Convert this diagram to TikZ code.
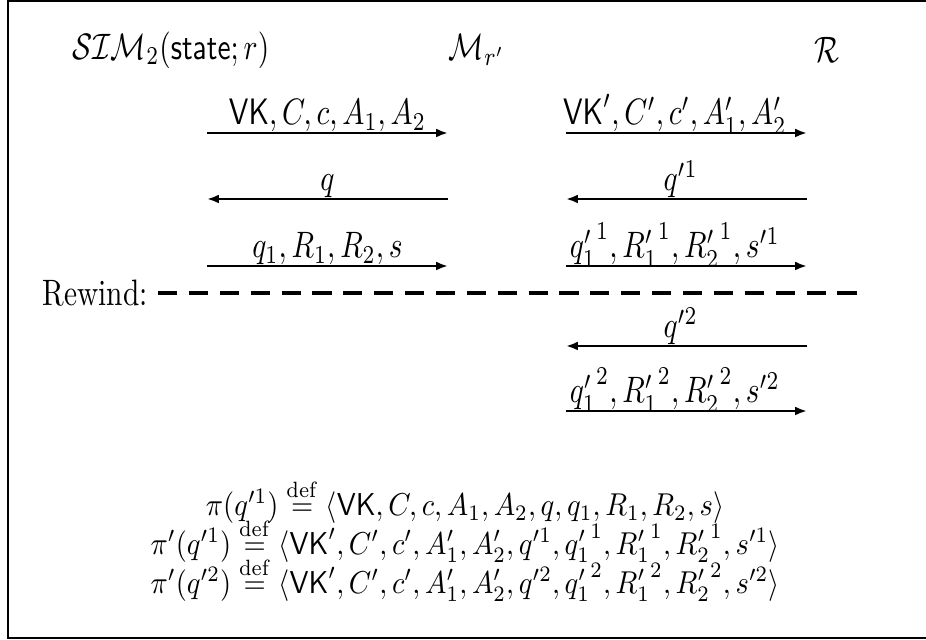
\documentclass[tikz,border=0pt]{standalone}
\usepackage{amsmath,amssymb}
\usepackage{tikz}
\usetikzlibrary{arrows.meta}

\begin{document}
\begin{tikzpicture}[x=0.34pt,y=-0.34pt,
	every node/.style={yscale=1.25},
	msg/.style={thick,-{Latex[length=4pt,width=3pt]}},
	lbl/.style={anchor=base,yshift=2.2pt},
	eqn/.style={xscale=0.97,yscale=0.86,inner sep=0pt}]
	\useasboundingbox (0,0) rectangle (926,640);
	\draw[line width=1pt] (8,1) rectangle (960,638);
	% parties
	\node (sim) at (171,50) {$\mathcal{SIM}_2(\mathsf{state};r)$};
	\node (mid) at (477,50) {$\mathcal{M}_{r'}$};
	\node (rcv) at (827,50) {$\mathcal{R}$};
	% end points of the messages
	\coordinate (l1s) at (207,133); \coordinate (l1e) at (448,133);
	\coordinate (l2s) at (448,199); \coordinate (l2e) at (207,199);
	\coordinate (l3s) at (207,266); \coordinate (l3e) at (448,266);
	\coordinate (r1s) at (566,133); \coordinate (r1e) at (807,133);
	\coordinate (r2s) at (807,199); \coordinate (r2e) at (566,199);
	\coordinate (r3s) at (566,266); \coordinate (r3e) at (807,266);
	\coordinate (r4s) at (807,346); \coordinate (r4e) at (566,346);
	\coordinate (r5s) at (566,411); \coordinate (r5e) at (807,411);
	% first run
	\draw[msg] (l1s) -- node[lbl] (m1) {$\mathsf{VK},C,c,A_1,A_2$} (l1e);
	\draw[msg] (l2s) -- node[lbl] (m2) {$q$} (l2e);
	\draw[msg] (l3s) -- node[lbl] (m3) {$q_1,R_1,R_2,s$} (l3e);
	\draw[msg] (r1s) -- node[lbl,xshift=-4pt] (n1) {$\mathsf{VK}',C',c',A'_1,A'_2$} (r1e);
	\draw[msg] (r2s) -- node[lbl,xshift=-2pt] (n2) {$q'^1$} (r2e);
	\draw[msg] (r3s) -- node[lbl,xshift=-4pt] (n3) {${q'_1}^1,{R'_1}^1,{R'_2}^1,s'^1$} (r3e);
	% rewind
	\node[anchor=east] (rw) at (158,293) {Rewind:};
	\coordinate (rwend) at (860,293);
	\draw[very thick,dash pattern=on 6.5pt off 4pt] (rw.east) -- (rwend);
	% second run
	\draw[msg] (r4s) -- node[lbl,xshift=-2pt] (n4) {$q'^2$} (r4e);
	\draw[msg] (r5s) -- node[lbl,xshift=-4pt] (n5) {${q'_1}^2,{R'_1}^2,{R'_2}^2,s'^2$} (r5e);
	% transcripts
	\node[eqn] (f1) at (465,501) {$\pi(q'^1)\stackrel{\mathrm{def}}{=}\langle\mathsf{VK},C,c,A_1,A_2,q,q_1,R_1,R_2,s\rangle$};
	\node[eqn] (f2) at (465,540) {$\pi'(q'^1)\stackrel{\mathrm{def}}{=}\langle\mathsf{VK}',C',c',A'_1,A'_2,q'^1,{q'_1}^1,{R'_1}^1,{R'_2}^1,s'^1\rangle$};
	\node[eqn] (f3) at (465,579) {$\pi'(q'^2)\stackrel{\mathrm{def}}{=}\langle\mathsf{VK}',C',c',A'_1,A'_2,q'^2,{q'_1}^2,{R'_1}^2,{R'_2}^2,s'^2\rangle$};
\end{tikzpicture}
\end{document}
